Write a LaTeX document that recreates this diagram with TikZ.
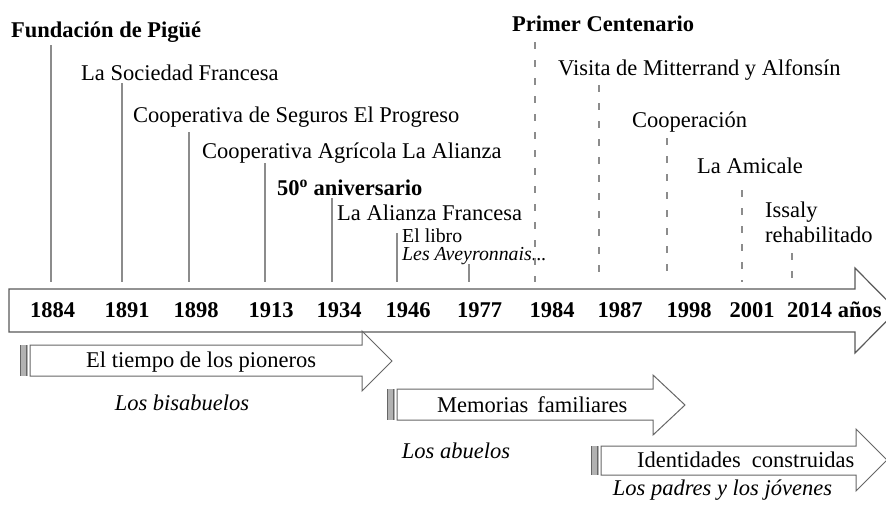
\documentclass[tikz,border=0pt]{standalone}
\usepackage{fontspec}
\setmainfont{Liberation Serif}
\begin{document}
\begin{tikzpicture}[x=1pt,y=-1pt,
  lbl/.style={anchor=base west, inner sep=0pt, font=\fontsize{22.5}{26}\selectfont},
  lblb/.style={anchor=base west, inner sep=0pt, font=\fontsize{22.5}{26}\selectfont\bfseries},
  lbls/.style={anchor=base west, inner sep=0pt, font=\fontsize{19.8}{22}\selectfont},
  yr/.style={anchor=base, inner sep=0pt, font=\fontsize{22.5}{26}\selectfont\bfseries},
  gen/.style={anchor=base, inner sep=0pt, font=\fontsize{22.5}{26}\selectfont\itshape},
  evline/.style={draw=black!45, line width=1.3pt},
  evdash/.style={draw=black!45, line width=1.2pt, dash pattern=on 7pt off 11pt},
  mainout/.style={draw=black!65, line width=1.2pt, fill=white},
  perout/.style={draw=black!60, line width=1pt, fill=white},
  barfill/.style={fill=black!30},
  barline/.style={draw=black!60, line width=0.9pt},
]
\useasboundingbox (0,0) rectangle (886,512);
\clip (0,0) rectangle (886,512);

% ---------- main timeline arrow ----------
\path[mainout] (9,289) -- (855,289) -- (855,268) -- (897,310.5) -- (855,353) -- (855,332) -- (9,332) -- cycle;

% ---------- years ----------
\node[yr] (y1884) at (52.5,317) {1884};
\node[yr] (y1891) at (127,317) {1891};
\node[yr] (y1898) at (196,317) {1898};
\node[yr] (y1913) at (271,317) {1913};
\node[yr] (y1934) at (339,317) {1934};
\node[yr] (y1946) at (408,317) {1946};
\node[yr] (y1977) at (479.5,317) {1977};
\node[yr] (y1984) at (552,317) {1984};
\node[yr] (y1987) at (620,317) {1987};
\node[yr] (y1998) at (689,317) {1998};
\node[yr] (y2001) at (752,317) {2001};
\node[yr, anchor=base west] (y2014) at (787,317) {2014 años};

% ---------- event labels ----------
\node[lblb] (e1884) at (11,37) {Fundación de Pigüé};
\node[lbl]  (e1891) at (81,80) {La Sociedad Francesa};
\node[lbl]  (e1898) at (133,122) {Cooperativa de Seguros El Progreso};
\node[lbl]  (e1913) at (202,158) {Cooperativa Agrícola La Alianza};
\node[lblb] (e1934a) at (277,195) {50\textsuperscript{o} aniversario};
\node[lbl]  (e1934b) at (337,220) {La Alianza Francesa};
\node[lbls] (e1946a) at (402,242) {El libro};
\node[lbls, font=\fontsize{19.8}{22}\selectfont\itshape] (e1946b) at (402,260) {Les Aveyronnais...};
\node[lblb] (e1984) at (512,31) {Primer Centenario};
\node[lbl]  (e1987) at (558,75) {Visita de Mitterrand y Alfonsín};
\node[lbl]  (e1998) at (632,127) {Cooperación};
\node[lbl]  (e2001) at (697,173) {La Amicale};
\node[lbl]  (e2014a) at (765,217) {Issaly};
\node[lbl]  (e2014b) at (765,242) {rehabilitado};

% ---------- event lines ----------
\foreach \n/\x/\t in {1884/51/45, 1891/122/83, 1898/189/132, 1913/265/163, 1934/332/198, 1946/397/233, 1977/469/264}{
  \coordinate (t\n) at (\x,\t);
  \coordinate (b\n) at (\x,282);
  \draw[evline] (t\n) -- (b\n);
}
\foreach \n/\x/\t in {1984/535/42, 1987/599/85, 1998/667/138, 2001/742/190, 2014/792/253}{
  \coordinate (t\n) at (\x,\t);
  \coordinate (b\n) at (\x,282);
  \draw[evdash] (t\n) -- (b\n);
}

% ---------- period arrows ----------
% 1: El tiempo de los pioneros
\path[perout] (30,345) -- (362,345) -- (362,331) -- (392,361) -- (362,391) -- (362,376) -- (30,376) -- cycle;
\path[barfill] (20,345) rectangle (28,376);
\draw[barline] (20,345) -- (20,376);
\draw[barline] (26.5,345) -- (26.5,376);
\node[lbl] (p1) at (86,367) {El tiempo de los pioneros};
\node[gen] (g1) at (182,410) {Los bisabuelos};

% 2: Memorias familiares
\path[perout] (397,389) -- (653,389) -- (653,375) -- (685,405) -- (653,435) -- (653,420) -- (397,420) -- cycle;
\path[barfill] (387,389) rectangle (395,420);
\draw[barline] (387,389) -- (387,420);
\draw[barline] (393.5,389) -- (393.5,420);
\node[lbl] (p2) at (437,412) {Memorias\hspace{9pt}familiares};
\node[gen] (g2) at (456,458) {Los abuelos};

% 3: Identidades construidas
\path[perout] (601,446) -- (856,446) -- (856,429) -- (887,460) -- (856,491) -- (856,475) -- (601,475) -- cycle;
\path[barfill] (591,446) rectangle (599,475);
\draw[barline] (591,446) -- (591,475);
\draw[barline] (597.5,446) -- (597.5,475);
\node[lbl] (p3) at (637,467) {Identidades\hspace{11pt}construidas};
\node[gen] (g3) at (722.5,495) {Los padres y los jóvenes};
\end{tikzpicture}
\end{document}
